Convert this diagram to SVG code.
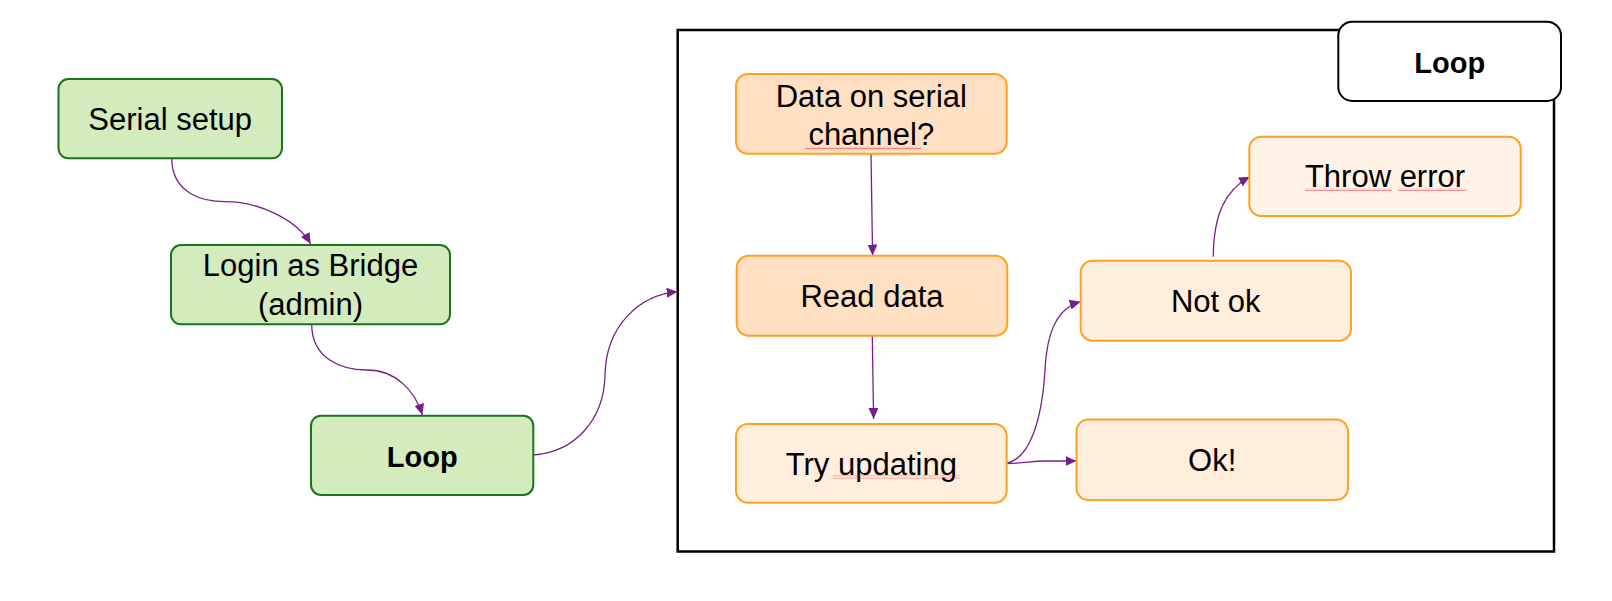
<svg xmlns="http://www.w3.org/2000/svg" width="1612" height="601" viewBox="0 0 1612 601">
<style>
  text { font-family: "Liberation Sans", Arial, sans-serif; font-size: 31px; fill: #000; text-anchor: middle; }
  .b { font-weight: bold; font-size: 29px; }
  .green { fill: #D4EBBE; stroke: #17761A; stroke-width: 2; }
  .peach { fill: #FFE0C3; stroke: #FFA01E; stroke-width: 2; }
  .light { fill: #FFEEDC; stroke: #FFA01E; stroke-width: 2; }
  .lighter { fill: #FFF3E7; stroke: #FFA01E; stroke-width: 2; }
  .frame { fill: none; stroke: #000; stroke-width: 2.5; }
  .label { fill: #fff; stroke: #000; stroke-width: 2; }
  .conn { fill: none; stroke: #7A1D8C; stroke-width: 1.3; }
</style>
<defs>
  <marker id="arrow" markerUnits="userSpaceOnUse" markerWidth="12" markerHeight="10" refX="11" refY="5" orient="auto">
    <path d="M0,0 L11,5 L0,10 Z" fill="#7A1D8C"/>
  </marker>
  <pattern id="wv" patternUnits="userSpaceOnUse" width="3" height="3">
    <path d="M0,2.2 L0.75,0.8 L1.5,2.2 L2.25,0.8 L3,2.2" fill="none" stroke="#F04650" stroke-width="0.55"/>
  </pattern>
</defs>

<g id="frame">
  <rect class="frame" x="677.7" y="30" width="876.3" height="521.5"/>
</g>

<g id="connectors">
  <path class="conn" marker-end="url(#arrow)" d="M171.7,158.3 C172,195 205,201.7 225,201.7 C260,201.7 297,220 310.7,244"/>
  <path class="conn" marker-end="url(#arrow)" d="M311.7,324.5 C312,358 340,370 367,370 C395,370 415,390 422.3,415"/>
  <path class="conn" marker-end="url(#arrow)" d="M533.3,455 C575,452 604,420 605,375 C606,325 640,295 677.7,291.7"/>
  <path class="conn" marker-end="url(#arrow)" d="M871,153.7 L872.6,255.5"/>
  <path class="conn" marker-end="url(#arrow)" d="M872.3,335.7 L873.6,419"/>
  <path class="conn" marker-end="url(#arrow)" d="M1006.7,463.3 C1030,458 1042,420 1045,370 C1047,330 1058,308 1080.7,301.7"/>
  <path class="conn" marker-end="url(#arrow)" d="M1006.7,463.5 C1025,463.5 1030,461 1046,461 L1076.5,461"/>
  <path class="conn" marker-end="url(#arrow)" d="M1213.3,256.7 C1213.5,215 1225,190 1250,176.7"/>
</g>

<g id="serial-setup">
  <rect class="green" x="58.5" y="79" width="223.5" height="79.3" rx="10"/>
  <text x="170.2" y="130">Serial setup</text>
</g>

<g id="login">
  <rect class="green" x="171" y="245" width="279" height="79.3" rx="10"/>
  <text x="310.5" y="275.7">Login as Bridge</text>
  <text x="310.5" y="315">(admin)</text>
</g>

<g id="loop-start">
  <rect class="green" x="311" y="415.7" width="222.3" height="79.3" rx="10"/>
  <text class="b" x="422.2" y="466.7">Loop</text>
</g>

<g id="loop-label">
  <rect class="label" x="1338.3" y="21.7" width="222.7" height="79.3" rx="14"/>
  <text class="b" x="1449.7" y="72.7">Loop</text>
</g>

<g id="data-on-serial">
  <rect class="peach" x="736" y="74" width="270.7" height="79.7" rx="12"/>
  <text x="871.3" y="106.7">Data on serial</text>
  <text x="871.3" y="145">channel?</text>
  <rect x="805" y="146.5" width="116" height="3" fill="url(#wv)"/>
</g>

<g id="read-data">
  <rect class="peach" x="736.7" y="255.7" width="270.6" height="80" rx="12"/>
  <text x="872" y="306.7">Read data</text>
</g>

<g id="try-updating">
  <rect class="light" x="736" y="424" width="270.7" height="78.7" rx="12"/>
  <text x="871.3" y="475">Try updating</text>
  <rect x="832.7" y="475.5" width="126.6" height="3" fill="url(#wv)"/>
</g>

<g id="not-ok">
  <rect class="light" x="1080.7" y="260.7" width="270.3" height="80" rx="12"/>
  <text x="1215.8" y="311.7">Not ok</text>
</g>

<g id="throw-error">
  <rect class="lighter" x="1249.3" y="136.7" width="271.4" height="79.3" rx="12"/>
  <text x="1385" y="186.7">Throw error</text>
  <rect x="1305" y="188" width="87" height="3" fill="url(#wv)"/>
  <rect x="1398" y="188" width="68" height="3" fill="url(#wv)"/>
</g>

<g id="ok">
  <rect class="light" x="1076.5" y="419.5" width="271.5" height="80.5" rx="12"/>
  <text x="1212.2" y="471">Ok!</text>
</g>
</svg>
